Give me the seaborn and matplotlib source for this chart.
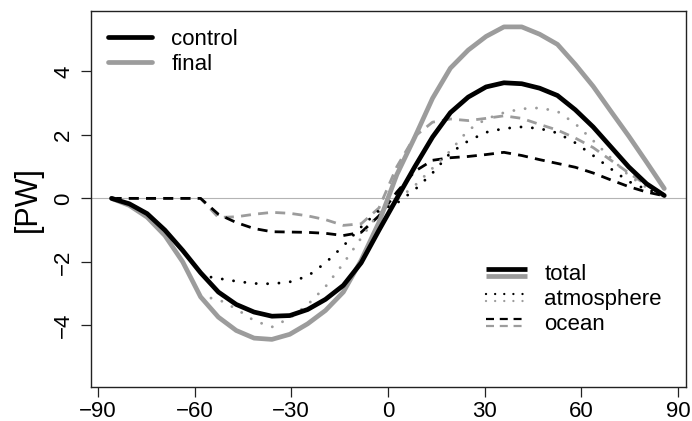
import numpy as np
import pandas as pd
import matplotlib
matplotlib.use("Agg")
import matplotlib.pyplot as plt
import seaborn as sns
from matplotlib.lines import Line2D
from matplotlib.legend_handler import HandlerBase

# ---------------- data ----------------
lat = [-85.76, -80.27, -74.74, -69.21, -63.68, -58.14, -52.61, -47.07, -41.53,
       -36.00, -30.46, -24.92, -19.38, -13.84, -8.31, -2.77, 2.77, 8.31, 13.84,
       19.38, 24.92, 30.46, 36.00, 41.53, 47.07, 52.61, 58.14, 63.68, 69.21,
       74.74, 80.27, 85.76]

total_control = [0.00, -0.17, -0.48, -1.00, -1.64, -2.34, -2.95, -3.34, -3.58,
                 -3.71, -3.69, -3.50, -3.18, -2.74, -2.03, -1.00, 0.00, 0.99, 1.93,
                 2.70, 3.19, 3.51, 3.64, 3.61, 3.47, 3.24, 2.79, 2.25, 1.62,
                 0.99, 0.46, 0.09]
total_final = [0.00, -0.22, -0.59, -1.17, -2.00, -3.10, -3.74, -4.16, -4.40,
               -4.44, -4.28, -3.95, -3.53, -2.95, -1.95, -0.75, 0.75, 1.92, 3.15,
               4.10, 4.67, 5.10, 5.40, 5.40, 5.17, 4.85, 4.22, 3.53, 2.74,
               1.96, 1.14, 0.31]
ocean_control = [0.00, 0.00, 0.00, 0.00, 0.00, 0.00, -0.50, -0.76, -0.95,
                 -1.05, -1.06, -1.07, -1.10, -1.17, -1.07, -0.55, 0.20, 0.85, 1.20,
                 1.28, 1.32, 1.38, 1.45, 1.35, 1.22, 1.10, 0.98, 0.80, 0.58,
                 0.37, 0.20, 0.08]
ocean_final = [0.00, 0.00, 0.00, 0.00, 0.00, 0.00, -0.60, -0.58, -0.50,
               -0.44, -0.47, -0.55, -0.67, -0.85, -0.80, -0.30, 1.00, 1.95, 2.40,
               2.50, 2.45, 2.52, 2.60, 2.52, 2.33, 2.15, 1.90, 1.60, 1.20,
               0.80, 0.42, 0.12]

atm_lat = [-54.90, -52.61, -47.07, -41.53, -36.00, -30.46, -24.92, -19.38, -13.84,
           -8.31, -2.77, 2.77, 8.31, 13.84, 19.38, 24.92, 30.46, 36.00, 41.53,
           47.07, 52.61, 58.14, 63.68, 69.21, 74.74, 80.27, 85.76]
atm_control = [-2.48, -2.52, -2.61, -2.68, -2.69, -2.63, -2.45, -2.03, -1.50,
               -0.90, -0.38, -0.15, 0.27, 0.80, 1.43, 1.81, 2.08, 2.20, 2.25,
               2.20, 2.06, 1.75, 1.35, 0.93, 0.53, 0.28, 0.12]
atm_final = [-3.14, -3.18, -3.48, -3.85, -4.05, -3.77, -3.35, -2.78, -2.05,
             -1.25, -0.45, -0.05, 0.40, 0.95, 1.50, 2.15, 2.50, 2.70, 2.82,
             2.85, 2.74, 2.35, 1.82, 1.27, 0.72, 0.34, 0.15]

x_ticks = [-90, -60, -30, 0, 30, 60, 90]
y_ticks = [-4, -2, 0, 2, 4]
y_label = "[PW]"
run_labels = ["control", "final"]
comp_labels = ["total", "atmosphere", "ocean"]

# ---------------- styling ----------------
sns.set_style("white")
plt.rcParams["font.family"] = ["Liberation Sans", "DejaVu Sans"]
plt.rcParams["axes.unicode_minus"] = True
plt.rcParams["text.color"] = "black"
plt.rcParams["axes.labelcolor"] = "black"

BLACK = "#000000"
GRAY = "#9c9c9c"
FS = 16
LW_THICK = 3.4
LW_DOT = 2.1
LW_DASH = 2.0
DOT = (0.01, 3.9)
DASH = (3.6, 2.6)

fig = plt.figure(figsize=(6.92, 4.21), dpi=100)
ax = fig.add_axes([90.5 / 692, 1 - 386.7 / 421, (686 - 90.5) / 692, (386.7 - 10.7) / 421])

ax.axhline(0, color="#b4b4b4", lw=0.8, zorder=1)

def draw(x, y, color, lw, dashes=None, cap="butt"):
    df = pd.DataFrame({"lat": x, "val": y})
    sns.lineplot(data=df, x="lat", y="val", ax=ax, color=color, lw=lw,
                 sort=False, estimator=None, legend=False)
    ln = ax.lines[-1]
    if dashes is not None:
        ln.set_dashes(dashes)
    ln.set_solid_capstyle(cap)
    ln.set_dash_capstyle(cap)
    ln.set_solid_joinstyle("round")
    return ln

draw(lat, ocean_final, GRAY, LW_DASH, DASH)
draw(lat, ocean_control, BLACK, LW_DASH, DASH)
draw(atm_lat, atm_final, GRAY, LW_DOT, DOT, cap="round")
draw(atm_lat, atm_control, BLACK, LW_DOT, DOT, cap="round")
draw(lat, total_final, GRAY, LW_THICK, cap="round")
draw(lat, total_control, BLACK, LW_THICK, cap="round")

ax.set_xlim(-92.3, 92.5)
ax.set_ylim(-5.93, 5.91)
ax.set_xticks(x_ticks)
ax.set_yticks(y_ticks)
ax.set_xlabel("")
ax.set_ylabel(y_label, fontsize=22, color="black")
ax.yaxis.set_label_coords(-0.08, 0.5)
for s in ax.spines.values():
    s.set_color("#222222")
    s.set_linewidth(1.0)
ax.tick_params(axis="both", direction="out", length=7.2, width=0.9,
               color="#222222", labelsize=FS, labelcolor="black",
               bottom=True, left=True, top=False, right=False)
ax.tick_params(axis="x", pad=3.2)
ax.tick_params(axis="y", pad=4.5)
for t in ax.get_yticklabels():
    t.set_rotation(90)
    t.set_va("center")

# legend 1: runs
h_ctrl = Line2D([], [], color=BLACK, lw=LW_THICK, solid_capstyle="round")
h_fin = Line2D([], [], color=GRAY, lw=LW_THICK, solid_capstyle="round")
leg1 = ax.legend([h_ctrl, h_fin], run_labels, loc="upper left",
                 bbox_to_anchor=(0.0294, 0.9526), frameon=False, fontsize=FS,
                 handlelength=2.0, handletextpad=0.85, labelspacing=0.18,
                 borderpad=0, borderaxespad=0, labelcolor="black")
ax.add_artist(leg1)


class HandlerStacked(HandlerBase):
    def create_artists(self, legend, orig_handle, xdescent, ydescent,
                       width, height, fontsize, trans):
        xdata = np.array([-xdescent, width - xdescent])
        yc = (height - ydescent) / 2
        arts = []
        for src, off in zip(orig_handle, (2.4, -2.4)):
            ln = Line2D(xdata, [yc + off, yc + off])
            ln.update_from(src)
            ln.set_transform(trans)
            arts.append(ln)
        return arts


def pair(lw, dashes=None, cap="butt"):
    out = []
    for c in (BLACK, GRAY):
        ln = Line2D([], [], color=c, lw=lw, solid_capstyle=cap, dash_capstyle=cap)
        if dashes is not None:
            ln.set_dashes(dashes)
        out.append(ln)
    return tuple(out)

h_tot = pair(LW_THICK)
h_atm = pair(LW_DOT * 0.8, DOT, cap="round")
h_oce = pair(LW_DASH * 0.8, DASH)
leg2 = ax.legend([h_tot, h_atm, h_oce], comp_labels, loc="upper left",
                 bbox_to_anchor=(0.664, 0.3255), frameon=False, fontsize=FS,
                 handlelength=1.85, handletextpad=0.77, labelspacing=0.18,
                 borderpad=0, borderaxespad=0, labelcolor="black",
                 handler_map={tuple: HandlerStacked()})

fig.savefig("out.png", dpi=100)
